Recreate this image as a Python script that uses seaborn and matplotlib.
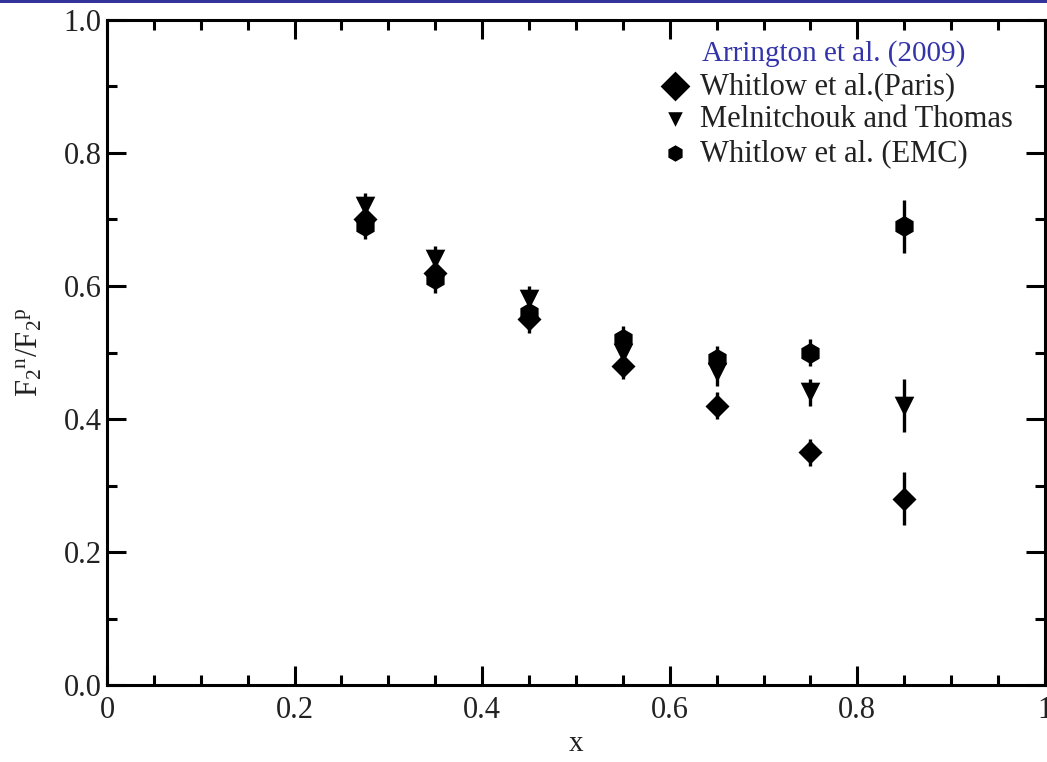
import numpy as np
import matplotlib
matplotlib.use("Agg")
import matplotlib.pyplot as plt
import seaborn as sns
from matplotlib.ticker import MultipleLocator
from matplotlib.patches import Rectangle

# data
xVals = [0.275, 0.35, 0.45, 0.55, 0.65, 0.75, 0.85]
parisY = [0.70, 0.62, 0.55, 0.48, 0.42, 0.35, 0.28]
parisErr = [0.02, 0.02, 0.02, 0.02, 0.02, 0.02, 0.04]
mtY = [0.72, 0.64, 0.58, 0.50, 0.47, 0.44, 0.42]
mtErr = [0.02, 0.02, 0.02, 0.02, 0.02, 0.02, 0.04]
emcY = [0.69, 0.61, 0.56, 0.52, 0.49, 0.50, 0.69]
emcErr = [0.02, 0.02, 0.02, 0.02, 0.02, 0.02, 0.04]

seriesNames = ["Whitlow et al.(Paris)", "Melnitchouk and Thomas", "Whitlow et al. (EMC)"]
legendTitle = "Arrington et al. (2009)"

sns.set_style("ticks")
plt.rcParams['font.family'] = ['Liberation Serif', 'DejaVu Serif']
plt.rcParams['mathtext.fontset'] = 'custom'
plt.rcParams['mathtext.rm'] = 'Liberation Serif'
plt.rcParams['mathtext.it'] = 'Liberation Serif'

fig = plt.figure(figsize=(10.47, 7.62), dpi=100)
ax = fig.add_axes([0.1022, 0.101, 0.8958, 0.8728])

series = [
    (parisY, parisErr, "D", 150),
    (mtY, mtErr, "v", 200),
    (emcY, emcErr, "h", 230),
]
for (yv, ev, mk, sz), name in zip(series, seriesNames):
    ax.errorbar(xVals, yv, yerr=ev, fmt="none", ecolor="k", elinewidth=2.4, capsize=0, zorder=2)
    sns.scatterplot(x=xVals, y=yv, marker=mk, s=sz, color="k", edgecolor="k",
                    linewidth=0, label=name, ax=ax, zorder=3)

ax.set_xlim(0, 1)
ax.set_ylim(0, 1)
ax.xaxis.set_minor_locator(MultipleLocator(0.05))
ax.yaxis.set_minor_locator(MultipleLocator(0.1))
ax.set_xticks([0, 0.2, 0.4, 0.6, 0.8, 1.0])
ax.set_xticklabels(["0", "0.2", "0.4", "0.6", "0.8", "1"])
ax.set_yticks([0, 0.2, 0.4, 0.6, 0.8, 1.0])
ax.set_yticklabels(["0.0", "0.2", "0.4", "0.6", "0.8", "1.0"])
ax.tick_params(which="both", direction="in", top=True, right=True, width=2.2, colors="k",
               labelcolor="#222222", labelsize=22)
ax.tick_params(which="major", length=14)
ax.tick_params(which="minor", length=7)
ax.tick_params(axis="x", pad=8)
ax.tick_params(axis="y", pad=4)
for sp in ax.spines.values():
    sp.set_linewidth(2.2)
    sp.set_color("k")

ax.set_xlabel("x", fontsize=21, color="#222222", labelpad=4)
ax.set_ylabel(r"$\mathrm{F_2{}^n/F_2{}^p}$", fontsize=22, color="#222222", labelpad=14)

leg = ax.legend(loc="upper left", bbox_to_anchor=(0.5896, 0.922),
                frameon=False, fontsize=22, handletextpad=0.3, borderpad=0,
                labelspacing=0.15, borderaxespad=0, handlelength=1.0)
for t in leg.get_texts():
    t.set_color("#222222")
for h, s in zip(leg.legend_handles, [230, 110, 140]):
    h.set_sizes([s])
ax.text(0.634, 0.949, legendTitle, transform=ax.transAxes, fontsize=21,
        color="#3333aa", ha="left", va="center")

# blue strip across the top of the slide
fig.add_artist(Rectangle((0, 0.9965), 1, 0.0035, transform=fig.transFigure,
                         facecolor="#333399", edgecolor="none"))

fig.savefig("out.png", dpi=100)
